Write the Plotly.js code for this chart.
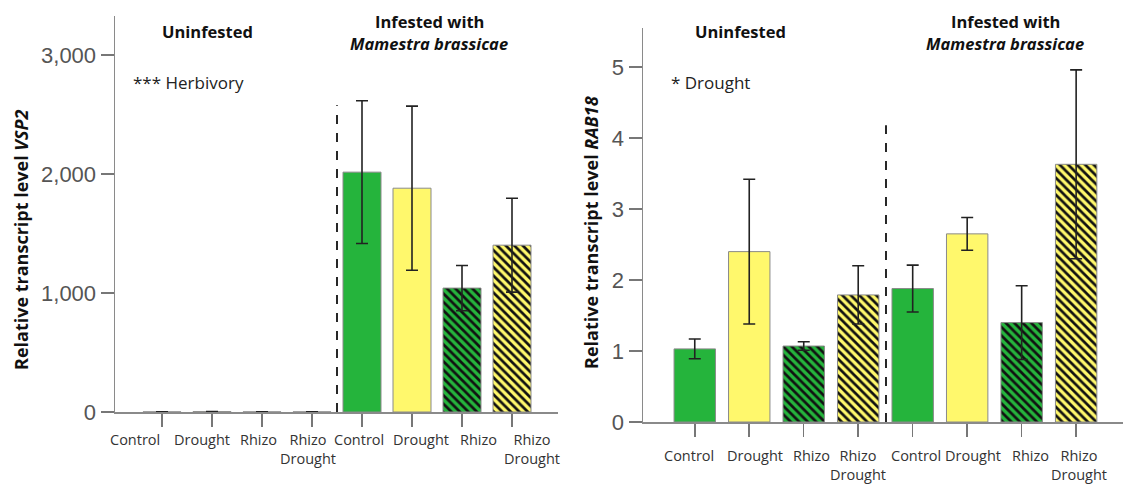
<!DOCTYPE html>
<html>
<head>
<meta charset="utf-8">
<script src="https://cdn.plot.ly/plotly-3.0.1.min.js"></script>
<style>html,body{margin:0;padding:0;background:#fff}#chart{width:1123px;height:488px}</style>
</head>
<body>
<div id="chart"></div>
<script>
// ---- data ----
const categories = ["Control", "Drought", "Rhizo", "Rhizo<br>Drought", "Control", "Drought", "Rhizo", "Rhizo<br>Drought"];
const treatments = ["Control", "Drought", "Rhizo", "RhizoDrought", "Control", "Drought", "Rhizo", "RhizoDrought"];
const vsp2Values = [1, 3, 1, 1, 2017, 1882, 1042, 1403];
const vsp2Errors = [0.5, 1, 0.5, 0.5, 600, 690, 190, 395];
const rab18Values = [1.03, 2.40, 1.07, 1.79, 1.88, 2.65, 1.40, 3.63];
const rab18Errors = [0.14, 1.02, 0.06, 0.41, 0.33, 0.23, 0.52, 1.33];
const vsp2Yticks = [0, 1000, 2000, 3000];
const rab18Yticks = [0, 1, 2, 3, 4, 5];

// ---- styles ----
const GREEN = "#25b43c", YELLOW = "#fff86c";
const treatmentStyle = {
  Control: {color: GREEN, shape: ""},
  Drought: {color: YELLOW, shape: ""},
  Rhizo: {color: GREEN, shape: "\\"},
  RhizoDrought: {color: YELLOW, shape: "\\"}
};
const xs = categories.map((c, i) => i);
// label nudges (px) to mimic the original figure's label placement
const labelShiftLeft = [-27, -10, -4, -4, -3, 9, 16, 20];
const labelShiftRight = [-6, 6, 8, 0, 3, 6, 9, 3];

function barTraces(vals, errs, xa, ya) {
  return Object.keys(treatmentStyle).map(t => {
    const idx = xs.filter(i => treatments[i] === t);
    const st = treatmentStyle[t];
    return {
      type: "bar", x: idx, y: idx.map(i => vals[i]), xaxis: xa, yaxis: ya, width: 0.76,
      marker: {
        color: st.color,
        line: {color: "#8a8a8a", width: 1},
        pattern: {shape: st.shape, fillmode: "replace", bgcolor: st.color, fgcolor: "#111", fgopacity: 1, size: 6, solidity: 0.45}
      },
      error_y: {type: "data", array: idx.map(i => errs[i]), visible: true, color: "#222", thickness: 1.6, width: 6},
      hoverinfo: "skip", showlegend: false
    };
  });
}

const W = 1123, H = 488;
const px = v => v / W, py = v => 1 - v / H;

const xCommon = {
  tickmode: "array", tickvals: xs, showticklabels: false,
  ticks: "outside", ticklen: 13, tickwidth: 1.5, tickcolor: "#777",
  showline: true, linecolor: "#8a8a8a", linewidth: 1.5,
  showgrid: false, zeroline: false, automargin: false, fixedrange: true
};
const yCommon = {
  ticks: "outside", ticklen: 13, tickwidth: 1.5, tickcolor: "#777",
  showline: true, linecolor: "#8a8a8a", linewidth: 1.5,
  showgrid: false, zeroline: false, automargin: false,
  tickfont: {family: "Liberation Sans", size: 22, color: "#555"}, fixedrange: true
};

const titleFont = {family: "Open Sans", size: 16.5, color: "#111"};
const annotations = [
  {text: "<b>Relative transcript level <i>VSP2</i></b>", x: px(21), y: py(240), textangle: -90, font: {family: "Open Sans", size: 18, color: "#111"}},
  {text: "<b>Relative transcript level <i>RAB18</i></b>", x: px(591), y: py(233), textangle: -90, font: {family: "Open Sans", size: 18, color: "#111"}},
  {text: "<b>Uninfested</b>", x: px(207), y: py(32), font: titleFont},
  {text: "<b>Infested with</b>", x: px(429), y: py(21), font: titleFont},
  {text: "<b><i>Mamestra brassicae</i></b>", x: px(429), y: py(44), font: titleFont},
  {text: "*** Herbivory", x: px(131), y: py(82), xanchor: "left", font: {family: "Open Sans", size: 17, color: "#222"}},
  {text: "<b>Uninfested</b>", x: px(740), y: py(32), font: titleFont},
  {text: "<b>Infested with</b>", x: px(1005), y: py(21), font: titleFont},
  {text: "<b><i>Mamestra brassicae</i></b>", x: px(1005), y: py(44), font: titleFont},
  {text: "* Drought", x: px(669), y: py(82), xanchor: "left", font: {family: "Open Sans", size: 17, color: "#222"}}
].map(a => Object.assign({xref: "paper", yref: "paper", showarrow: false, xanchor: "center", yanchor: "middle"}, a));

const labelFont = {family: "Open Sans", size: 14.5, color: "#333"};
categories.forEach((c, i) => {
  annotations.push({text: c, xref: "x", yref: "paper", x: i, y: py(428), xanchor: "center", yanchor: "top", xshift: labelShiftLeft[i], showarrow: false, font: labelFont, align: "center"});
  annotations.push({text: c, xref: "x2", yref: "paper", x: i, y: py(444), xanchor: "center", yanchor: "top", xshift: labelShiftRight[i], showarrow: false, font: labelFont, align: "center"});
});

const layout = {
  width: W, height: H,
  margin: {l: 0, r: 0, t: 0, b: 0},
  paper_bgcolor: "#fff", plot_bgcolor: "#fff",
  barmode: "overlay",
  xaxis: Object.assign({}, xCommon, {domain: [px(115), px(558)], range: [-0.94, 7.92], anchor: "y"}),
  yaxis: Object.assign({}, yCommon, {domain: [py(412), py(16)], range: [0, 3330], tickvals: vsp2Yticks, tickformat: ",d", anchor: "x"}),
  xaxis2: Object.assign({}, xCommon, {domain: [px(643), 1], range: [-0.95, 7.86], anchor: "y2"}),
  yaxis2: Object.assign({}, yCommon, {domain: [py(422), py(28)], range: [0, 5.55], tickvals: rab18Yticks, anchor: "x2"}),
  shapes: [
    {type: "line", xref: "x", yref: "y", x0: 3.5, x1: 3.5, y0: 0, y1: 2580, line: {color: "#111", width: 1.8, dash: "dash"}},
    {type: "line", xref: "x2", yref: "y2", x0: 3.51, x1: 3.51, y0: 0, y1: 4.18, line: {color: "#111", width: 1.8, dash: "dash"}}
  ],
  annotations: annotations
};

const traces = barTraces(vsp2Values, vsp2Errors, "x", "y").concat(barTraces(rab18Values, rab18Errors, "x2", "y2"));
Plotly.newPlot("chart", traces, layout, {staticPlot: true, displayModeBar: false});
</script>
</body>
</html>
